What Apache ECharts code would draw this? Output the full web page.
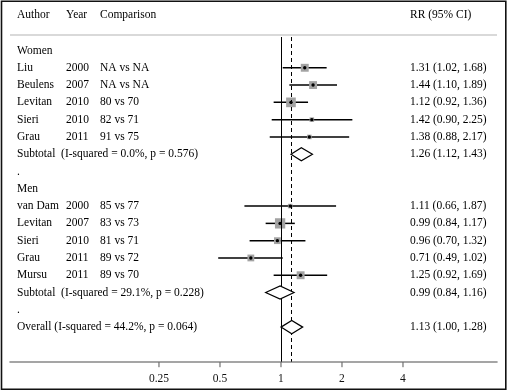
<!DOCTYPE html>
<html><head><meta charset="utf-8">
<script src="https://cdn.jsdelivr.net/npm/echarts@6/dist/echarts.min.js"></script>
<style>html,body{margin:0;padding:0;background:#fff}#c{width:508px;height:392px}</style>
</head><body><div id="c"></div>
<script>
const authors = ['Liu','Beulens','Levitan','Sieri','Grau','van Dam','Levitan','Sieri','Grau','Mursu'];
const years = ['2000','2007','2010','2010','2011','2000','2007','2010','2011','2011'];
const comparisons = ['NA vs NA','NA vs NA','80 vs 70','82 vs 71','91 vs 75','85 vs 77','83 vs 73','81 vs 71','89 vs 72','89 vs 70'];
const rr = [1.31,1.44,1.12,1.42,1.38,1.11,0.99,0.96,0.71,1.25];
const lower = [1.02,1.10,0.92,0.90,0.88,0.66,0.84,0.70,0.49,0.92];
const upper = [1.68,1.89,1.36,2.25,2.17,1.87,1.17,1.32,1.02,1.69];
const weights = [10,10,15,3.3,3.3,3.3,17,7.4,7.4,10];
const studyRows = [1,2,3,4,5,9,10,11,12,13];
const pooledLabels = ['Subtotal  (I-squared = 0.0%, p = 0.576)','Subtotal  (I-squared = 29.1%, p = 0.228)','Overall (I-squared = 44.2%, p = 0.064)'];
const pooledRR = [1.26,0.99,1.13];
const pooledLower = [1.12,0.84,1.00];
const pooledUpper = [1.43,1.16,1.28];
const pooledRows = [6,14,16];
const groupLabels = ['Women','.','Men','.'];
const groupRows = [0,7,8,15];
const headers = ['Author','Year','Comparison','RR (95% CI)'];
const xTicks = [0.25,0.5,1,2,4];
const overallRR = pooledRR[2];

const FONT = "'Liberation Serif', 'Times New Roman', serif";
const FS = 11.5;
const colX = [17, 66, 100, 410];
const Y_MIN = -0.78, Y_MAX = 18;
const fmt = (e,l,u) => e.toFixed(2) + ' (' + l.toFixed(2) + ', ' + u.toFixed(2) + ')';

const textRows = [];
groupRows.forEach((r,i)=>textRows.push([1, r, groupLabels[i], '', '', '']));
studyRows.forEach((r,i)=>textRows.push([1, r, authors[i], years[i], comparisons[i], fmt(rr[i],lower[i],upper[i])]));
pooledRows.forEach((r,i)=>textRows.push([1, r, pooledLabels[i], '', '', fmt(pooledRR[i],pooledLower[i],pooledUpper[i])]));

const chart = echarts.init(document.getElementById('c'), null, {renderer:'canvas'});
const txt = (x,y,s) => ({type:'text', style:{text:s, x:x, y:y, fill:'#000', font: FS+'px '+FONT, textVerticalAlign:'middle', textAlign:'left'}});

const baseGraphic = [
  {type:'rect', shape:{x:1.5,y:1.2,width:504.3,height:388}, style:{fill:'none', stroke:'#111', lineWidth:1.6}, z:100},
  {type:'line', shape:{x1:10,y1:35,x2:497,y2:35}, style:{stroke:'#ccc', lineWidth:1.5}},
  {type:'text', left:colX[0], top:9, style:{text:headers[0], font:FS+'px '+FONT, fill:'#000'}},
  {type:'text', left:colX[1], top:9, style:{text:headers[1], font:FS+'px '+FONT, fill:'#000'}},
  {type:'text', left:colX[2], top:9, style:{text:headers[2], font:FS+'px '+FONT, fill:'#000'}},
  {type:'text', left:colX[3], top:9, style:{text:headers[3], font:FS+'px '+FONT, fill:'#000'}}
];

chart.setOption({
  animation:false,
  backgroundColor:'#fff',
  grid:{left:10, right:11, top:37, bottom:30.3},
  xAxis:{type:'log', logBase:2, min:0.046, max:11.64,
    axisLine:{show:true, onZero:false, lineStyle:{color:'#888', width:1.6}},
    axisTick:{show:false},
    axisLabel:{show:true, customValues:xTicks, fontFamily:FONT, fontSize:FS, color:'#111', margin:11},
    splitLine:{show:false}},
  yAxis:{type:'value', inverse:true, min:Y_MIN, max:Y_MAX, show:false},
  graphic: baseGraphic,
  series:[
    {type:'scatter', data:[], z:1, silent:true,
     markLine:{silent:true, symbol:'none', label:{show:false},
       data:[
         {xAxis:1, lineStyle:{color:'#000', width:1, type:'solid'}},
         {xAxis:overallRR, lineStyle:{color:'#000', width:1, type:[4,3]}}
       ]}},
    {type:'custom', z:3, silent:true,
     data: studyRows.map((r,i)=>[lower[i], upper[i], r]),
     renderItem:(params, api)=>{
       const a = api.coord([api.value(0), api.value(2)]);
       const b = api.coord([api.value(1), api.value(2)]);
       return {type:'line', shape:{x1:a[0],y1:a[1],x2:b[0],y2:b[1]}, style:{stroke:'#000', lineWidth:1.5}};
     }},
    {type:'scatter', z:4, silent:true, symbol:'rect',
     data: studyRows.map((r,i)=>[rr[i], r, weights[i]]),
     symbolSize:(d)=>2.5*Math.sqrt(d[2]),
     itemStyle:{color:'#a3a3a3', opacity:1}},
    {type:'scatter', z:5, silent:true, symbol:'circle', symbolSize:3.4,
     data: studyRows.map((r,i)=>[rr[i], r]),
     itemStyle:{color:'#000', opacity:1}},
    {type:'custom', z:5, silent:true,
     data: pooledRows.map((r,i)=>[pooledLower[i], pooledRR[i], pooledUpper[i], r]),
     renderItem:(params, api)=>{
       const r = api.value(3), h = 0.38;
       const p1 = api.coord([api.value(0), r]);
       const p2 = api.coord([api.value(1), r-h]);
       const p3 = api.coord([api.value(2), r]);
       const p4 = api.coord([api.value(1), r+h]);
       return {type:'polygon', shape:{points:[p1,p2,p3,p4]}, style:{fill:'#fff', stroke:'#000', lineWidth:1.2}};
     }},
    {type:'custom', z:6, silent:true, clip:false,
     data: textRows,
     renderItem:(params, api)=>{
       const y = api.coord([1, api.value(1)])[1];
       const d = textRows[params.dataIndex];
       const kids = [];
       for (let k=0;k<4;k++) if (d[2+k]) kids.push(txt(colX[k], y, d[2+k]));
       return {type:'group', children:kids};
     }}
  ]
});

// axis ticks at the labelled values, positioned through the chart's own x scale
const tickGraphics = xTicks.map(v => {
  const p = chart.convertToPixel({gridIndex:0}, [v, Y_MAX]);
  return {type:'line', shape:{x1:p[0], y1:p[1]+0.5, x2:p[0], y2:p[1]+5.5}, style:{stroke:'#555', lineWidth:1}, z:50};
});
chart.setOption({graphic: baseGraphic.concat(tickGraphics)});
</script></body></html>
